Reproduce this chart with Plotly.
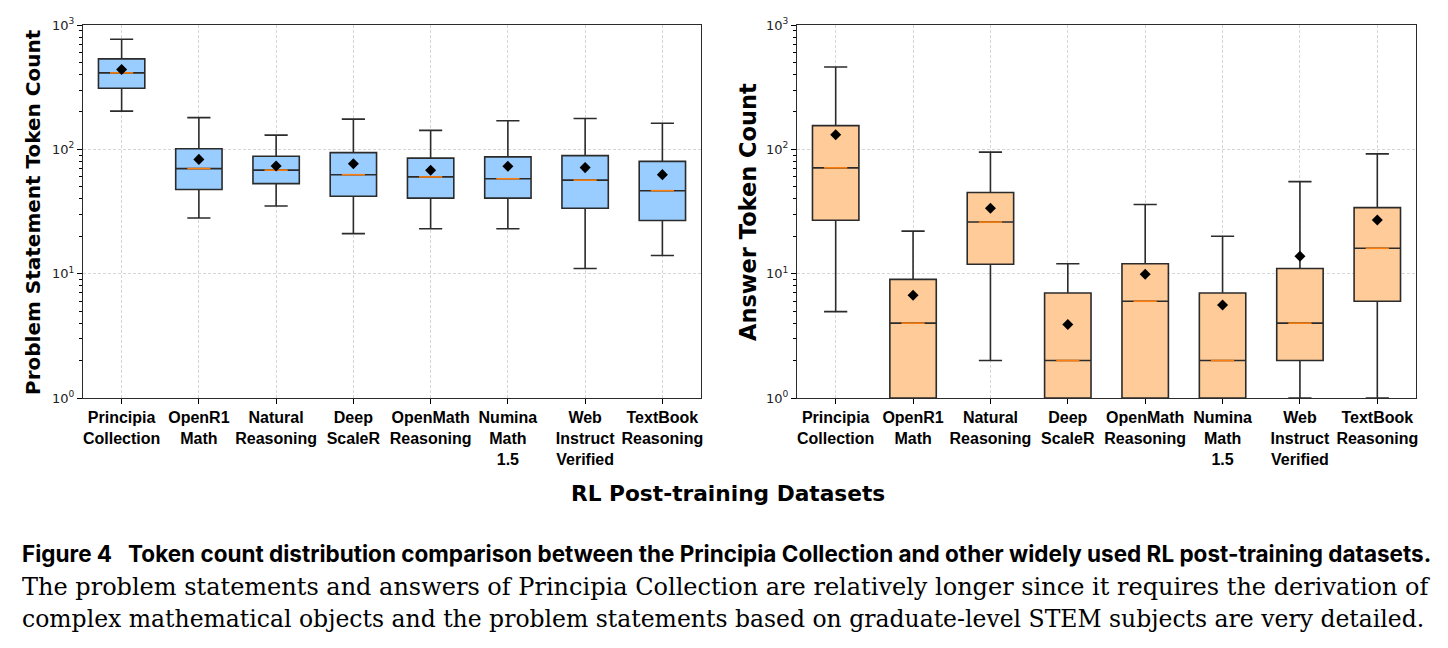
import plotly.graph_objects as go

categories = ["Principia<br>Collection", "OpenR1<br>Math", "Natural<br>Reasoning", "Deep<br>ScaleR",
              "OpenMath<br>Reasoning", "Numina<br>Math<br>1.5", "Web<br>Instruct<br>Verified", "TextBook<br>Reasoning"]

# Problem statement token counts (left panel)
ps_low = [203, 28, 35, 21, 23, 23, 11, 14]
ps_q1 = [310, 47.5, 53, 42, 40.5, 40.5, 33.6, 26.8]
ps_median = [412, 70, 68, 62.5, 60, 58, 56.5, 46.5]
ps_q3 = [534, 101, 88, 94, 85, 87, 89, 80]
ps_high = [769, 180, 130, 175, 142, 170, 177, 162]
ps_mean = [438, 83, 73.5, 76.7, 68, 73, 71.3, 62.6]

# Answer token counts (right panel)
ans_low = [4.95, 1, 2.0, 1, 1, 1, 1, 1]
ans_q1 = [26.9, 1, 11.9, 1, 1, 1, 2, 6]
ans_median = [71, 4, 26, 2, 6, 2, 4, 16]
ans_q3 = [155, 9, 45, 7, 12, 7, 11, 34]
ans_high = [460, 22, 95, 12, 36, 20, 55, 92]
ans_mean = [131, 6.7, 33.6, 3.9, 9.9, 5.6, 13.8, 27]

ytick_vals = [1, 10, 100, 1000]
ytick_text = ["10<sup>0</sup>", "10<sup>1</sup>", "10<sup>2</sup>", "10<sup>3</sup>"]
minor_vals = [m * 10 ** k for k in range(3) for m in range(2, 10)]

xs = list(range(len(categories)))
BOXW = 0.6
EDGE = "#2b2b2b"

fig = go.Figure()


def add_panel(xref, yref, low, q1, med, q3, high, mean, fill):
    fig.add_trace(go.Box(
        x=xs, q1=q1, median=med, q3=q3, lowerfence=low, upperfence=high,
        xaxis=xref, yaxis=yref, width=BOXW, whiskerwidth=0.5,
        fillcolor=fill, line=dict(color=EDGE, width=1.6),
        boxpoints=False, showlegend=False, hoverinfo="skip"))
    mx, my = [], []
    for i, m in zip(xs, med):
        mx += [i - BOXW / 4, i + BOXW / 4, None]
        my += [m, m, None]
    fig.add_trace(go.Scatter(x=mx, y=my, mode="lines", xaxis=xref, yaxis=yref,
                             line=dict(color="#ff7f0e", width=1.6), showlegend=False,
                             hoverinfo="skip"))
    fig.add_trace(go.Scatter(x=xs, y=mean, mode="markers", xaxis=xref, yaxis=yref,
                             marker=dict(symbol="diamond", size=8.5, color="black"),
                             showlegend=False, hoverinfo="skip"))


add_panel("x", "y", ps_low, ps_q1, ps_median, ps_q3, ps_high, ps_mean, "#99ccff")
add_panel("x2", "y2", ans_low, ans_q1, ans_median, ans_q3, ans_high, ans_mean, "#ffcc99")

W, H = 1448, 648
GRID = dict(showgrid=True, gridcolor="#d6d6d6", griddash="3px,2px", gridwidth=0.8)

xaxis_common = dict(
    range=[-0.5, 7.5], tickmode="array", tickvals=xs,
    ticktext=["<b>%s</b>" % c for c in categories],
    tickfont=dict(family="Liberation Sans, Arial", size=16, color="black"),
    ticks="outside", ticklen=5, tickcolor="black",
    showline=True, linecolor=EDGE, linewidth=1.2, mirror=True, zeroline=False,
    automargin=False, **GRID,
)
yaxis_common = dict(
    type="log", range=[0, 3], tickmode="array", tickvals=ytick_vals, ticktext=ytick_text,
    tickfont=dict(family="DejaVu Sans", size=13, color="#222"),
    ticks="outside", ticklen=5, tickcolor="black",
    minor=dict(tickmode="array", tickvals=minor_vals, ticks="outside", ticklen=3,
               tickcolor="black", showgrid=False),
    showline=True, linecolor=EDGE, linewidth=1.2, mirror=True, zeroline=False,
    automargin=False, **GRID,
)

ydom = [1 - 398 / H, 1 - 25 / H]
fig.update_layout(
    width=W, height=H, margin=dict(l=0, r=0, t=0, b=0, autoexpand=False),
    paper_bgcolor="white", plot_bgcolor="white",
    xaxis=dict(xaxis_common, domain=[83 / W, 701 / W], anchor="y"),
    yaxis=dict(yaxis_common, domain=ydom, anchor="x"),
    xaxis2=dict(xaxis_common, domain=[797 / W, 1416 / W], anchor="y2"),
    yaxis2=dict(yaxis_common, domain=ydom, anchor="x2"),
)


def note(text, x, y, size, family, angle=0, xanchor="center"):
    return dict(text=text, x=x / W, y=1 - y / H, xref="paper", yref="paper",
                xanchor=xanchor, yanchor="middle", textangle=angle, showarrow=False,
                font=dict(family=family, size=size, color="black"))


ann = [
    note("<b>Problem Statement Token Count</b>", 33, 212, 20, "DejaVu Sans", -90),
    note("<b>Answer Token Count</b>", 748, 212, 22.5, "DejaVu Sans", -90),
    note("<b>RL Post-training Datasets</b>", 728, 493, 21.7, "DejaVu Sans"),
    note("<b>Figure 4 &nbsp;&nbsp;Token count distribution comparison between the Principia Collection and other widely used RL post-training datasets.</b>",
         20, 553, 22.5, "Inter, Liberation Sans", xanchor="left"),
    note("The problem statements and answers of Principia Collection are relatively longer since it requires the derivation of",
         20, 587, 24, "DejaVu Serif", xanchor="left"),
    note("complex mathematical objects and the problem statements based on graduate-level STEM subjects are very detailed.",
         20, 619, 23.5, "DejaVu Serif", xanchor="left"),
]
fig.update_layout(annotations=ann)

fig.write_html("out.html")
